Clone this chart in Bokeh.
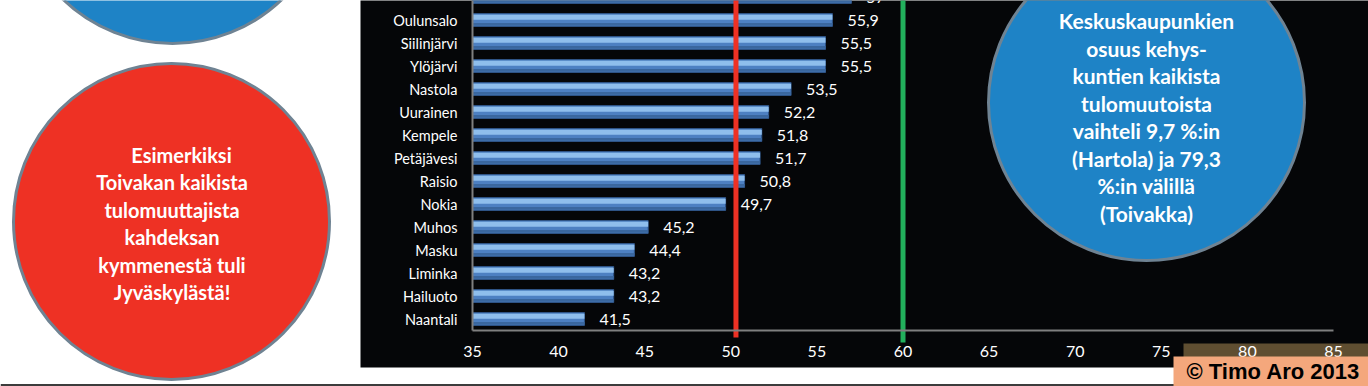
from bokeh.plotting import figure
from bokeh.models import ColumnDataSource, Range1d, FixedTicker
from bokeh.transform import dodge
from bokeh.core.properties import value
from bokeh.embed import file_html
from bokeh.resources import INLINE

# ---- data ----
municipalities = ["Lempäälä", "Oulunsalo", "Siilinjärvi", "Ylöjärvi", "Nastola", "Uurainen",
                  "Kempele", "Petäjävesi", "Raisio", "Nokia", "Muhos", "Masku",
                  "Liminka", "Hailuoto", "Naantali"]
shares = [57.0, 55.9, 55.5, 55.5, 53.5, 52.2, 51.8, 51.7, 50.8, 49.7, 45.2, 44.4, 43.2, 43.2, 41.5]
ref_red = 50.3
ref_green = 60.0
x_ticks = [35, 40, 45, 50, 55, 60, 65, 70, 75, 80, 85]
left_note = ["Esimerkiksi", "Toivakan kaikista", "tulomuuttajista", "kahdeksan",
             "kymmenestä tuli", "Jyväskylästä!"]
right_note = ["Keskuskaupunkien", "osuus kehys-", "kuntien kaikista", "tulomuutoista",
              "vaihteli 9,7 %:in", "(Hartola) ja 79,3", "%:in välillä", "(Toivakka)"]
copyright_text = "© Timo Aro 2013"

BG = "#050608"
RED = "#EE3124"
BLUE = "#1E83C6"
GREEN = "#22B05C"
RING = "#6F8393"
FONT = "Lato"
W, H = 1368, 386

# ---- layout helpers: page pixel -> data coordinate ----
X_PX0, X_SCALE = 472.0, 17.22      # value 35 sits at 472 px, 17.22 px per unit
Y_PX0, Y_SCALE = 318.5, 23.0       # row 0 (bottom) at 318.5 px, 23 px per row


def dx(px):
    return x_ticks[0] + (px - X_PX0) / X_SCALE


def dy(py):
    return (Y_PX0 - py) / Y_SCALE


n = len(municipalities)
ys = [n - 1 - i for i in range(n)]
src = ColumnDataSource(dict(
    y=ys, v=shares, name=municipalities,
    lab=[("%g" % v).replace(".", ",") for v in shares],
))

p = figure(width=W, height=H, x_range=Range1d(dx(0), dx(W)), y_range=Range1d(dy(H), dy(0)),
           output_backend="svg", toolbar_location=None, tools="", title=None,
           min_border=0, min_border_left=0, min_border_right=0, min_border_top=0, min_border_bottom=0,
           background_fill_color="white", border_fill_color="white", outline_line_color=None)
p.grid.visible = False

# black chart panel
p.quad(left=[dx(360)], right=[dx(W + 2)], bottom=[dy(367)], top=[dy(-2)],
       fill_color=BG, line_color=None)
# thin rule at the very bottom
p.segment(x0=[dx(0)], y0=[dy(384.5)], x1=[dx(W)], y1=[dy(384.5)], line_color="#3c3c3c", line_width=2)
# brownish strip behind the last tick labels
p.quad(left=[dx(1183)], right=[dx(W + 2)], bottom=[dy(362)], top=[dy(343)],
       fill_color="#5F4E31", line_color=None)

# ---- axes (placed inside the canvas) ----
AX_Y = dy(329.5)
p.xaxis.fixed_location = AX_Y
p.xaxis.bounds = (x_ticks[0], x_ticks[-1])
p.xaxis.ticker = FixedTicker(ticks=x_ticks)
p.xaxis.axis_line_color = "#7f7f7f"
p.xaxis.axis_line_width = 2
p.xaxis.major_tick_line_color = None
p.xaxis.minor_tick_line_color = None
p.xaxis.major_tick_out = 0
p.xaxis.minor_tick_out = 0
p.xaxis.major_label_text_color = "white"
p.xaxis.major_label_text_font = FONT
p.xaxis.major_label_text_font_size = "16px"
p.xaxis.major_label_standoff = 16

p.yaxis.fixed_location = x_ticks[0]
p.yaxis.bounds = (AX_Y, n)
p.yaxis.ticker = FixedTicker(ticks=ys)
p.yaxis.major_label_overrides = {y: nm for y, nm in zip(ys, municipalities)}
p.yaxis.axis_line_color = "#7f7f7f"
p.yaxis.axis_line_width = 2
p.yaxis.major_tick_line_color = None
p.yaxis.minor_tick_line_color = None
p.yaxis.major_tick_out = 0
p.yaxis.minor_tick_out = 0
p.yaxis.major_label_text_color = "white"
p.yaxis.major_label_text_font = FONT
p.yaxis.major_label_text_font_size = "14.5px"
p.yaxis.major_label_standoff = 15

# ---- bars (bevelled look) ----
p.hbar(y="y", left=x_ticks[0], right="v", height=0.56, source=src,
       fill_color="#4d80c2", line_color="#2f5487", line_width=1)
p.hbar(y=dodge("y", 0.12), left=x_ticks[0], right="v", height=0.22, source=src,
       fill_color="#8fbeec", line_color=None)
p.hbar(y=dodge("y", -0.19), left=x_ticks[0], right="v", height=0.12, source=src,
       fill_color="#3a679f", line_color=None)

p.text(x="v", y="y", text="lab", source=src, x_offset=15, text_baseline="middle",
       text_align="left", text_color="white", text_font=value(FONT), text_font_size="16px")

# ---- reference lines ----
p.segment(x0=[ref_red], y0=[dy(337)], x1=[ref_red], y1=[dy(-5)], line_color=RED, line_width=5)
p.segment(x0=[ref_green], y0=[dy(342)], x1=[ref_green], y1=[dy(-5)], line_color=GREEN, line_width=5)

# ---- bubbles ----
p.scatter(x=[dx(1146), dx(172), dx(171)], y=[dy(102), dy(-115), dy(221)], size=316, marker="circle",
          fill_color=[BLUE, BLUE, RED], line_color=RING, line_width=3)
p.text(x=[dx(1146)] * len(right_note),
       y=[dy(20 + 27.5 * i) for i in range(len(right_note))],
       text=right_note, text_align="center", text_baseline="middle", text_color="white",
       text_font=value(FONT), text_font_style="bold", text_font_size="21px")
p.text(x=[dx(181)] + [dx(171.5)] * (len(left_note) - 1),
       y=[dy(154 + 27.5 * i) for i in range(len(left_note))],
       text=left_note, text_align="center", text_baseline="middle", text_color="white",
       text_font=value(FONT), text_font_style="bold", text_font_size="20px")

# ---- copyright box (on top of the tick labels) ----
box = p.quad(left=[dx(1173)], right=[dx(W + 2)], bottom=[dy(H + 2)], top=[dy(356)],
             fill_color="#F4A77C", line_color=None)
box.level = "overlay"
cr = p.text(x=[dx(1186)], y=[dy(371)], text=[copyright_text], text_baseline="middle", text_align="left",
            text_font=value("Liberation Sans"), text_font_style="bold", text_font_size="22px",
            text_color="black")
cr.level = "overlay"

open("out.html", "w").write(file_html(p, INLINE))
